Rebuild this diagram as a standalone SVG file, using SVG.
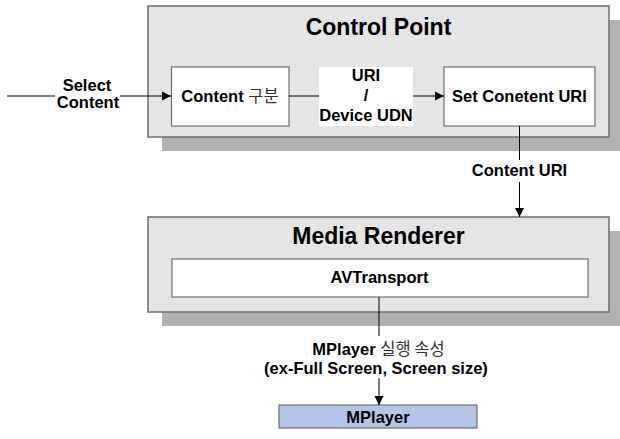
<svg xmlns="http://www.w3.org/2000/svg" width="620" height="439" viewBox="0 0 620 439">
  <defs>
    <marker id="arr" markerWidth="10" markerHeight="10" refX="9" refY="5" orient="auto" markerUnits="userSpaceOnUse">
      <path d="M0,0.5 L9,5 L0,9.5 Z" fill="#000"/>
    </marker>
    <style>
      .shadow { fill: #b2b2b2; }
      .outer { fill: #e5e5e5; stroke: #6e6e6e; stroke-width: 1.5; }
      .inner { fill: #ffffff; stroke: #6e6e6e; stroke-width: 1.2; }
      .t { font-family: "Liberation Sans", Arial, "Noto Sans CJK KR", sans-serif; font-weight: bold; fill: #000; text-anchor: middle; }
      .s { font-size: 16.5px; }
      .big { font-size: 23px; }
      .ko { font-family: "Noto Sans CJK KR", sans-serif; font-weight: 400; fill: #333; }
      .ln { stroke: #000; stroke-width: 1; fill: none; }
    </style>
  </defs>
  <rect width="620" height="439" fill="#ffffff"/>

  <g id="control-point">
    <rect class="shadow" x="162" y="20" width="461" height="131"/>
    <rect class="outer" x="148" y="6" width="461" height="131"/>
    <text class="t big" x="378.5" y="35">Control Point</text>
  </g>

  <g id="content-classify">
    <rect class="inner" x="171.5" y="67" width="117.5" height="59"/>
    <text class="t s" x="230" y="102">Content <tspan class="ko">구분</tspan></text>
  </g>

  <g id="uri-label">
    <rect x="319" y="67" width="94" height="59" fill="#ffffff"/>
    <text class="t s" x="366" y="81">URI</text>
    <text class="t s" x="366" y="101">/</text>
    <text class="t s" x="366" y="121">Device UDN</text>
  </g>

  <g id="set-content-uri">
    <rect class="inner" x="444" y="67" width="151" height="59"/>
    <text class="t s" x="519.5" y="102">Set Conetent URI</text>
  </g>

  <g id="media-renderer">
    <rect class="shadow" x="162" y="231" width="461" height="95"/>
    <rect class="outer" x="148" y="217" width="461" height="95"/>
    <text class="t big" x="378.5" y="244">Media Renderer</text>
  </g>

  <g id="avtransport">
    <rect class="inner" x="172" y="259" width="416" height="38"/>
    <text class="t s" x="379.5" y="283">AVTransport</text>
  </g>

  <g id="mplayer">
    <rect x="279" y="405" width="198" height="23" fill="#b4c6e7" stroke="#6e6e6e" stroke-width="1.2"/>
    <text class="t s" x="378" y="423">MPlayer</text>
  </g>

  <g id="connectors">
    <line class="ln" x1="7" y1="96" x2="55" y2="96"/>
    <line class="ln" x1="120" y1="96" x2="171" y2="96" marker-end="url(#arr)"/>
    <line class="ln" x1="289" y1="96" x2="319" y2="96"/>
    <line class="ln" x1="413" y1="96" x2="444" y2="96" marker-end="url(#arr)"/>
    <line class="ln" x1="519.5" y1="126" x2="519.5" y2="160"/>
    <line class="ln" x1="519.5" y1="182" x2="519.5" y2="217" marker-end="url(#arr)"/>
    <line class="ln" x1="379" y1="297" x2="379" y2="336"/>
    <line class="ln" x1="379" y1="378" x2="379" y2="405" marker-end="url(#arr)"/>
  </g>

  <g id="labels">
    <text class="t s" x="87" y="91">Select</text>
    <text class="t s" x="88" y="108">Content</text>
    <text class="t s" x="519.5" y="176">Content URI</text>
    <text class="t s" x="378.5" y="355">MPlayer <tspan class="ko">실행 속성</tspan></text>
    <text class="t s" x="376" y="374">(ex-Full Screen, Screen size)</text>
  </g>
</svg>
